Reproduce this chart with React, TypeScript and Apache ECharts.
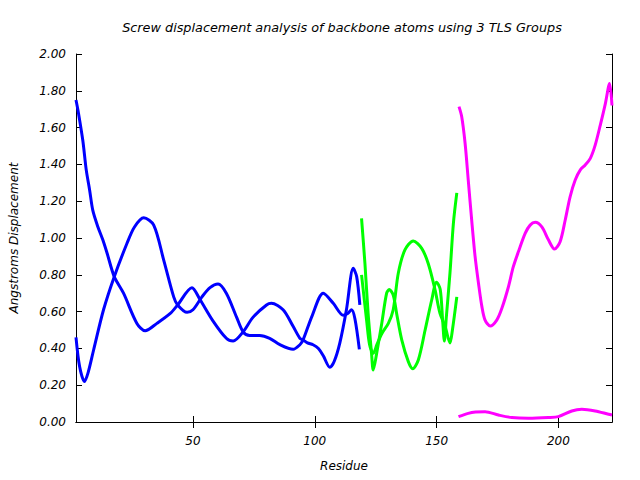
import React, { useEffect, useRef } from "react";
import * as echarts from "echarts";

const titleText = "Screw displacement analysis of backbone atoms using 3 TLS Groups";
const xName = "Residue";
const yName = "Angstroms Displacement";
const xTicks = [50, 100, 150, 200];

// Group 1 (blue), residues 2-118
const blueA: number[][] = [
  [2, 1.75], [3, 1.68], [4.8, 1.53], [6.2, 1.37], [7.6, 1.26], [8.9, 1.15], [11, 1.06],
  [13, 0.99], [14.7, 0.92],
  [17.7, 0.79], [21.5, 0.70], [27, 0.536], [30.4, 0.496], [35.2, 0.536], [40.7, 0.59],
  [43.7, 0.636], [49.6, 0.73], [52.7, 0.67], [58.2, 0.55], [63.7, 0.455], [66.5, 0.44],
  [70.6, 0.49], [74.7, 0.57], [80.2, 0.636], [82.2, 0.645], [87, 0.61], [91.1, 0.52],
  [93.9, 0.455], [95.2, 0.446], [97, 0.43], [99.3, 0.42], [101.5, 0.4], [103.5, 0.36],
  [106.2, 0.297], [108, 0.33], [110.3, 0.43], [113, 0.61], [115.8, 0.835], [117.2, 0.79],
  [118.5, 0.636],
];
const blueB: number[][] = [
  [2, 0.46], [3.5, 0.3], [5.5, 0.22], [7, 0.27], [9.2, 0.39], [13.3, 0.61], [17.7, 0.79],
  [22.9, 0.97], [26, 1.06], [29.8, 1.11], [33.9, 1.07], [38, 0.88], [42.1, 0.68],
  [43.7, 0.636], [47.6, 0.596], [50, 0.61], [53.7, 0.68], [57, 0.73], [60.3, 0.75],
  [63.7, 0.7], [67.9, 0.57], [70.6, 0.49], [73.3, 0.47], [77.4, 0.47], [81.5, 0.455],
  [85.7, 0.42], [91.1, 0.395], [93.9, 0.42], [95.2, 0.446], [99, 0.58], [103.5, 0.7],
  [107.6, 0.645], [111.7, 0.58], [113.5, 0.59], [115.1, 0.61], [116.5, 0.56], [118.3, 0.395],
];

// Group 2 (green), residues 119-158
const greenA: number[][] = [
  [119.2, 1.107], [120.6, 0.86], [121.9, 0.59], [123.3, 0.373], [124, 0.283], [125.4, 0.373],
  [127.5, 0.536], [129.5, 0.7], [130.6, 0.72], [132.2, 0.69], [133.6, 0.59], [135.7, 0.446],
  [138.4, 0.328], [140.2, 0.29], [142.5, 0.337], [145.3, 0.5], [148, 0.663], [150, 0.76],
  [151.5, 0.72], [152.5, 0.55], [153.2, 0.44], [154, 0.57], [155.5, 0.81], [156.9, 1.08],
  [158.3, 1.245],
];
const greenB: number[][] = [
  [119.2, 0.8], [121.3, 0.55], [122.5, 0.42], [124, 0.373], [125.5, 0.42], [127.5, 0.48],
  [130.2, 0.536], [132.2, 0.61], [134.3, 0.81], [137, 0.935], [140.4, 0.984], [143.9, 0.944],
  [146.6, 0.86], [149.4, 0.717], [151.4, 0.59], [153.5, 0.52], [155.5, 0.43], [156.5, 0.5],
  [158.3, 0.68],
];

// Group 3 (magenta), residues 159-222
const magentaA: number[][] = [
  [159.2, 1.714], [160.3, 1.66], [161.7, 1.515], [163, 1.315], [164.4, 1.098], [165.8, 0.9],
  [167.2, 0.754], [168.6, 0.627], [169.9, 0.554], [172, 0.522], [174.7, 0.554], [176.8, 0.618],
  [179.5, 0.735], [181.5, 0.844], [183.6, 0.926], [186.4, 1.026], [188.4, 1.07], [190.5, 1.085],
  [193.2, 1.06], [195.9, 0.99], [198.4, 0.94], [200.7, 0.98], [202.8, 1.098], [204.8, 1.224],
  [206.9, 1.315], [209, 1.37], [211, 1.397], [213.1, 1.433], [215.1, 1.505], [217.2, 1.614],
  [219.3, 1.732], [221, 1.84], [222, 1.72],
];
const magentaB: number[][] = [
  [159, 0.029], [163, 0.047], [166, 0.054], [169.9, 0.056], [175.4, 0.038], [180.9, 0.024],
  [187.7, 0.02], [195.9, 0.024], [200, 0.029], [205.5, 0.06], [209.6, 0.069], [215.1, 0.06],
  [220.6, 0.042], [222, 0.038],
];

const FONT = "DejaVu Sans";

export default function App() {
  const ref = useRef<HTMLDivElement>(null);
  useEffect(() => {
    if (!ref.current) return;
    const chart = echarts.init(ref.current, null, { renderer: "svg" });
    const axisLineStyle = { show: true, lineStyle: { color: "#000", width: 1 } };
    const tick = { show: true, inside: true, length: 6, lineStyle: { color: "#000" } };
    const labelStyle = { fontFamily: FONT, fontStyle: "italic" as const, fontSize: 12, color: "#000" };
    const mk = (name: string, data: number[][], color: string) => ({
      name,
      type: "line",
      data,
      smooth: 0.3,
      showSymbol: false,
      symbol: "none",
      lineStyle: { color, width: 3 },
      itemStyle: { color },
      xAxisIndex: 0,
      yAxisIndex: 0,
    });
    chart.setOption({
      animation: false,
      backgroundColor: "#fff",
      grid: { left: 76, top: 54, right: 28, bottom: 58, containLabel: false },
      graphic: [
        {
          type: "text",
          x: 342,
          y: 27,
          style: {
            text: titleText,
            fontFamily: FONT,
            fontStyle: "italic",
            fontSize: 12.8,
            fill: "#000",
            textAlign: "center",
            textVerticalAlign: "middle",
          },
        },
      ],
      xAxis: [
        {
          type: "value",
          position: "bottom",
          min: 2,
          max: 222,
          axisLine: axisLineStyle,
          axisTick: { ...tick, customValues: xTicks },
          axisLabel: { ...labelStyle, margin: 13, customValues: xTicks },
          splitLine: { show: false },
          name: xName,
          nameLocation: "middle",
          nameGap: 38,
          nameTextStyle: { ...labelStyle },
        },
        {
          type: "value",
          position: "top",
          min: 2,
          max: 222,
          axisLine: axisLineStyle,
          axisTick: { ...tick, customValues: xTicks },
          axisLabel: { show: false, customValues: xTicks },
          splitLine: { show: false },
        },
      ],
      yAxis: [
        {
          type: "value",
          position: "left",
          min: 0,
          max: 2,
          interval: 0.2,
          axisLine: axisLineStyle,
          axisTick: tick,
          axisLabel: { ...labelStyle, margin: 10, formatter: (v: number) => v.toFixed(2) },
          splitLine: { show: false },
          name: yName,
          nameLocation: "middle",
          nameGap: 56,
          nameRotate: 90,
          nameTextStyle: { ...labelStyle },
        },
        {
          type: "value",
          position: "right",
          min: 0,
          max: 2,
          interval: 0.2,
          axisLine: axisLineStyle,
          axisTick: tick,
          axisLabel: { show: false },
          splitLine: { show: false },
        },
      ],
      series: [
        mk("g1a", blueA, "#0000ff"),
        mk("g1b", blueB, "#0000ff"),
        mk("g2a", greenA, "#00ff00"),
        mk("g2b", greenB, "#00ff00"),
        mk("g3a", magentaA, "#ff00ff"),
        mk("g3b", magentaB, "#ff00ff"),
      ],
    });
    return () => chart.dispose();
  }, []);
  return (
    <div
      ref={ref}
      style={{ position: "fixed", left: 0, top: 0, width: 640, height: 480, background: "#fff" }}
    />
  );
}
